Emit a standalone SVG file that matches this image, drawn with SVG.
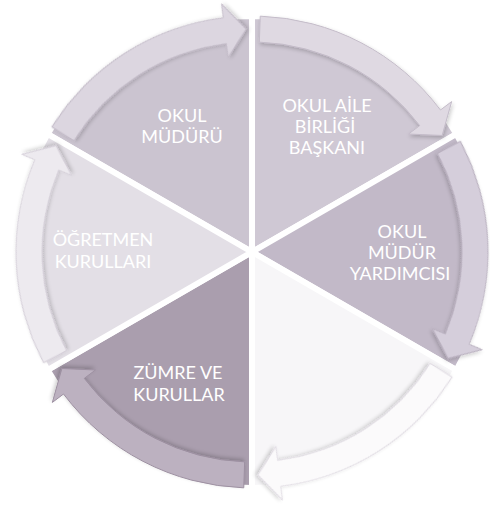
<svg xmlns="http://www.w3.org/2000/svg" xmlns:xlink="http://www.w3.org/1999/xlink" width="490" height="510" viewBox="0 0 490 510">
<style>
.wedge{stroke:#ffffff;stroke-width:6;stroke-linejoin:round}
.band{stroke-width:1;stroke-linejoin:round;filter:url(#sh)}
.lbl{font-family:Lato,"Open Sans","Liberation Sans",sans-serif;font-size:18px;fill:#ffffff;text-anchor:middle}
</style>
<defs>
<filter id="sh" x="-20%" y="-20%" width="140%" height="140%">
<feGaussianBlur in="SourceAlpha" stdDeviation="2"/>
<feOffset dx="1" dy="2" result="b"/>
<feComponentTransfer><feFuncA type="linear" slope="0.22"/></feComponentTransfer>
<feMerge><feMergeNode/><feMergeNode in="SourceGraphic"/></feMerge>
</filter>
<path id="wedge" d="M252 252 L252 16 A236 236 0 0 1 456.4 134 Z"/>
<path id="band" d="M260.24 16.14 A236 236 0 0 1 440.48 109.97 L451.66 101.55 L442.14 135.48 L408.53 134.04 L419.71 125.62 A210 210 0 0 0 259.33 42.13 Z"/>
</defs>
<rect width="490" height="510" fill="#ffffff"/>
<g id="slice-okul-muduru">
<use href="#wedge" class="wedge" fill="#cbc4d0" transform="rotate(-60 252 252)"/>
<text class="lbl" x="182" y="122">OKUL</text>
<text class="lbl" x="182" y="143">MÜDÜRÜ</text>
</g>
<g id="slice-okul-aile">
<use href="#wedge" class="wedge" fill="#cfc8d4"/>
<text class="lbl" x="327" y="112">OKUL AİLE</text>
<text class="lbl" x="325" y="133">BİRLİĞİ</text>
<text class="lbl" x="327" y="154">BAŞKANI</text>
</g>
<g id="slice-mudur-yardimcisi">
<use href="#wedge" class="wedge" fill="#c2b9c8" transform="rotate(60 252 252)"/>
<text class="lbl" x="402" y="238">OKUL</text>
<text class="lbl" x="402" y="259">MÜDÜR</text>
<text class="lbl" x="400" y="280">YARDIMCISI</text>
</g>
<g id="slice-empty">
<use href="#wedge" class="wedge" fill="#f7f6f8" transform="rotate(120 252 252)"/>
</g>
<g id="slice-zumre">
<use href="#wedge" class="wedge" fill="#aa9eae" transform="rotate(180 252 252)"/>
<text class="lbl" x="178" y="379">ZÜMRE VE</text>
<text class="lbl" x="179" y="401">KURULLAR</text>
</g>
<g id="slice-ogretmen">
<use href="#wedge" class="wedge" fill="#e3dfe6" transform="rotate(240 252 252)"/>
<text class="lbl" x="103" y="246">ÖĞRETMEN</text>
<text class="lbl" x="103" y="268">KURULLARI</text>
</g>
<g id="connectors">
<use href="#band" class="band" fill="#dcd6e0" stroke="#c2bac7" transform="rotate(-60 252 252)"/>
<use href="#band" class="band" fill="#dfd9e2" stroke="#c4bcc9"/>
<use href="#band" class="band" fill="#d5cedb" stroke="#b7aebd" transform="rotate(60 252 252)"/>
<use href="#band" class="band" fill="#fbfafb" stroke="#dfdae2" transform="rotate(120 252 252)"/>
<use href="#band" class="band" fill="#bcb1c0" stroke="#9d90a1" transform="rotate(180 252 252)"/>
<use href="#band" class="band" fill="#edeaef" stroke="#d4ced8" transform="rotate(240 252 252)"/>
</g>
</svg>
